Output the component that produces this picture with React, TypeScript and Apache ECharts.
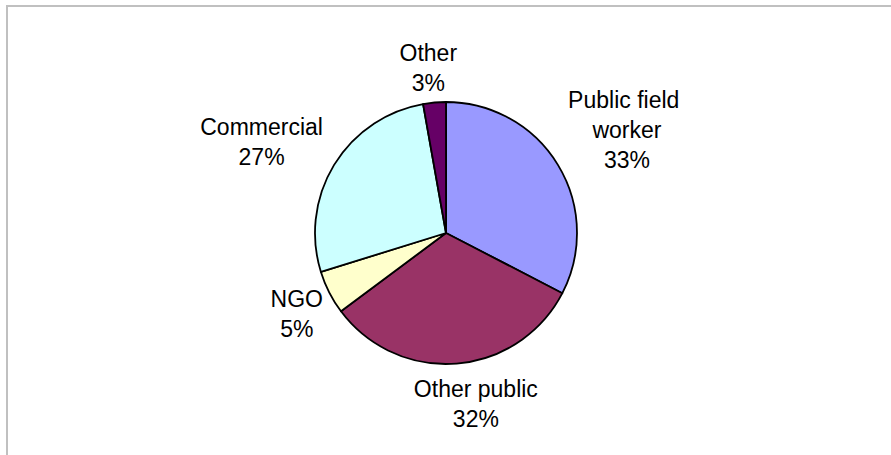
import React, { useEffect, useRef } from "react";
import * as echarts from "echarts";

const categories = ["Public field worker", "Other public", "NGO", "Commercial", "Other"];
const values = [32.6, 32.2, 5.4, 27.0, 2.8];
const colors = ["#9999ff", "#993366", "#ffffcc", "#ccffff", "#660066"];

const CX = 446;
const CY = 233;
const R = 131;
const GAP = 4;
// fine label nudges (layout only), per slice in order
const labelNudgeX = [0, 16, 4, -11, -3];
const labelNudgeY = [7, 2, 3, 15, 2];

export default function App() {
  const ref = useRef<HTMLDivElement>(null);
  useEffect(() => {
    if (!ref.current) return;
    const chart = echarts.init(ref.current, null, { renderer: "svg" });
    const total = values.reduce((a, b) => a + b, 0);
    const mids: number[] = [];
    let acc = 0;
    values.forEach((v) => {
      mids.push(((acc + v / 2) / total) * Math.PI * 2);
      acc += v;
    });
    chart.setOption({
      animation: false,
      backgroundColor: "#ffffff",
      graphic: [
        {
          type: "rect",
          shape: { x: 7, y: 6, width: 2000, height: 2000 },
          style: { fill: "none", stroke: "#c0c0c0", lineWidth: 2 },
          silent: true,
        },
      ],
      series: [
        {
          type: "pie",
          center: [CX, CY],
          radius: R,
          startAngle: 90,
          clockwise: true,
          avoidLabelOverlap: false,
          data: categories.map((name, i) => ({
            name,
            value: values[i],
            itemStyle: { color: colors[i] },
            label: i === 0 ? { width: 125, overflow: "break" } : {},
          })),
          itemStyle: { borderColor: "#000000", borderWidth: 1.8 },
          label: {
            show: true,
            position: "outside",
            fontFamily: "Liberation Sans, Arial, sans-serif",
            fontSize: 23,
            lineHeight: 30,
            color: "#000000",
            align: "center",
            formatter: (p: any) => `${p.name}\n${Math.round(p.percent)}%`,
          },
          labelLine: { show: false },
          labelLayout: (params: any) => {
            const i = params.dataIndex;
            const a = mids[i];
            const ux = Math.sin(a);
            const uy = -Math.cos(a);
            const w = params.labelRect.width;
            const h = params.labelRect.height;
            const half = Math.abs(ux) * (w / 2) + Math.abs(uy) * (h / 2);
            const d = R + GAP + half;
            return {
              x: CX + ux * d + labelNudgeX[i],
              y: CY + uy * d + labelNudgeY[i],
              align: "center",
              verticalAlign: "middle",
            };
          },
          emphasis: { disabled: true },
        },
      ],
    });
    return () => chart.dispose();
  }, []);
  return (
    <div
      ref={ref}
      style={{ position: "fixed", left: 0, top: 0, width: 891, height: 455 }}
    />
  );
}
